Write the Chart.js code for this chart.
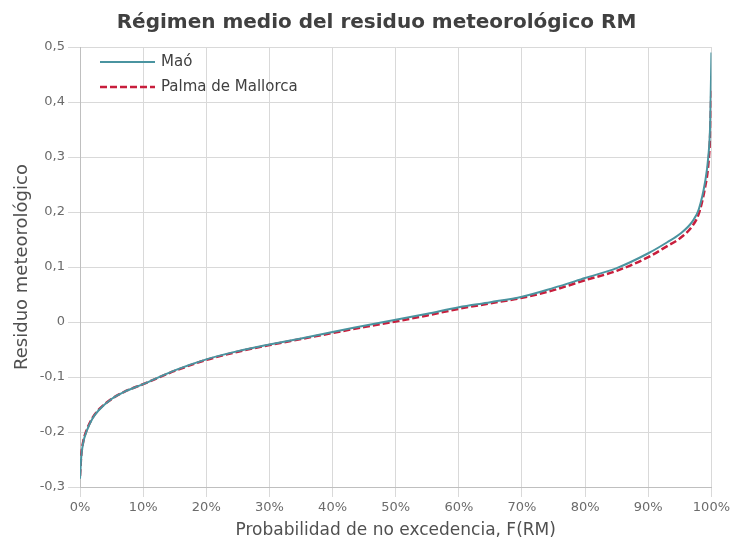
<!DOCTYPE html>
<html>
<head>
<meta charset="utf-8">
<script src="https://cdn.jsdelivr.net/npm/chart.js@4"></script>
<style>
  html, body { margin: 0; padding: 0; background: #fff; }
  #wrap { width: 733px; height: 544px; }
</style>
</head>
<body>
<div id="wrap"><canvas id="myChart" width="733" height="544"></canvas></div>
<script>
// probability of non-exceedance (%)
const probabilities = [0, 0.2, 0.5, 1, 2, 3, 5, 7, 10, 15, 20, 25, 30, 35, 40, 45, 50, 55, 60, 65, 70, 75, 80, 85, 90, 93, 95, 97, 98, 99, 99.5, 99.8, 100];
const maoValues = [-0.285, -0.245, -0.22, -0.2, -0.175, -0.16, -0.14, -0.127, -0.113, -0.088, -0.068, -0.053, -0.041, -0.03, -0.018, -0.007, 0.004, 0.015, 0.027, 0.036, 0.046, 0.062, 0.08, 0.098, 0.125, 0.145, 0.16, 0.183, 0.205, 0.255, 0.3, 0.36, 0.49];
const palmaValues = [-0.28, -0.242, -0.218, -0.198, -0.174, -0.159, -0.14, -0.127, -0.113, -0.089, -0.069, -0.054, -0.042, -0.031, -0.02, -0.009, 0.001, 0.012, 0.024, 0.034, 0.044, 0.058, 0.076, 0.093, 0.118, 0.138, 0.152, 0.175, 0.197, 0.245, 0.285, 0.34, 0.425];
const seriesNames = ['Maó', 'Palma de Mallorca'];

const toPoints = (vals) => vals.map((v, i) => ({ x: probabilities[i], y: v }));

// legend drawn inside the plot, top-left
const insideLegend = {
  id: 'insideLegend',
  afterLayout(chart) {
    // title sits a bit right of the canvas centre in the original
    if (chart.titleBlock) {
      chart.titleBlock.left += 19;
      chart.titleBlock.right += 19;
    }
  },
  afterDatasetsDraw(chart) {
    const { ctx, chartArea } = chart;
    ctx.save();
    ctx.font = '15px "DejaVu Sans"';
    ctx.textBaseline = 'middle';
    chart.data.datasets.forEach((ds, i) => {
      const y = chartArea.top + 15 + i * 25;
      const x0 = chartArea.left + 20;
      ctx.strokeStyle = ds.borderColor;
      ctx.lineWidth = ds.borderWidth;
      ctx.setLineDash(ds.borderDash || []);
      ctx.beginPath();
      ctx.moveTo(x0, y);
      ctx.lineTo(x0 + 55, y);
      ctx.stroke();
      ctx.setLineDash([]);
      ctx.fillStyle = '#404040';
      ctx.fillText(ds.label, x0 + 61, y);
    });
    ctx.restore();
  },
};

const ctx = document.getElementById('myChart').getContext('2d');
const myChart = new Chart(ctx, {
  type: 'line',
  data: {
    datasets: [
      {
        label: seriesNames[0],
        data: toPoints(maoValues),
        borderColor: '#4a94a0',
        borderWidth: 2,
        pointRadius: 0,
        cubicInterpolationMode: 'monotone',
      },
      {
        label: seriesNames[1],
        data: toPoints(palmaValues),
        borderColor: '#c81e3c',
        borderWidth: 2.5,
        borderDash: [7, 3],
        pointRadius: 0,
        cubicInterpolationMode: 'monotone',
      },
    ],
  },
  options: {
    responsive: false,
    animation: false,
    layout: { padding: { left: 0, right: 18, top: 0, bottom: 0 } },
    plugins: {
      title: {
        display: true,
        text: 'Régimen medio del residuo meteorológico RM',
        color: '#404040',
        font: { family: 'DejaVu Sans', size: 20, weight: 'bold' },
        padding: { top: 11, bottom: 12 },
      },
      legend: { display: false },
      tooltip: { enabled: false },
    },
    scales: {
      x: {
        type: 'linear',
        min: 0,
        max: 100,
        ticks: {
          stepSize: 10,
          color: '#6b6b6b',
          padding: 3,
          font: { family: 'DejaVu Sans', size: 13 },
          callback: (v) => v + '%',
        },
        grid: { color: '#d9d9d9', tickLength: 10 },
        border: { color: '#bfbfbf' },
        title: {
          display: true,
          text: 'Probabilidad de no excedencia, F(RM)',
          color: '#505050',
          padding: { top: 2, bottom: 3 },
          font: { family: 'DejaVu Sans', size: 17 },
        },
      },
      y: {
        min: -0.3,
        max: 0.5,
        afterFit: (scale) => { scale.width = 80; },
        ticks: {
          stepSize: 0.1,
          color: '#6b6b6b',
          padding: 3,
          font: { family: 'DejaVu Sans', size: 13 },
          callback: (v) => Math.abs(v) < 1e-9 ? '0' : v.toFixed(1).replace('.', ','),
        },
        grid: { color: '#d9d9d9', tickLength: 12 },
        border: { color: '#bfbfbf' },
        title: {
          display: true,
          text: 'Residuo meteorológico',
          color: '#505050',
          padding: { top: 12, bottom: 0 },
          font: { family: 'DejaVu Sans', size: 18 },
        },
      },
    },
  },
  plugins: [insideLegend],
});
</script>
</body>
</html>
